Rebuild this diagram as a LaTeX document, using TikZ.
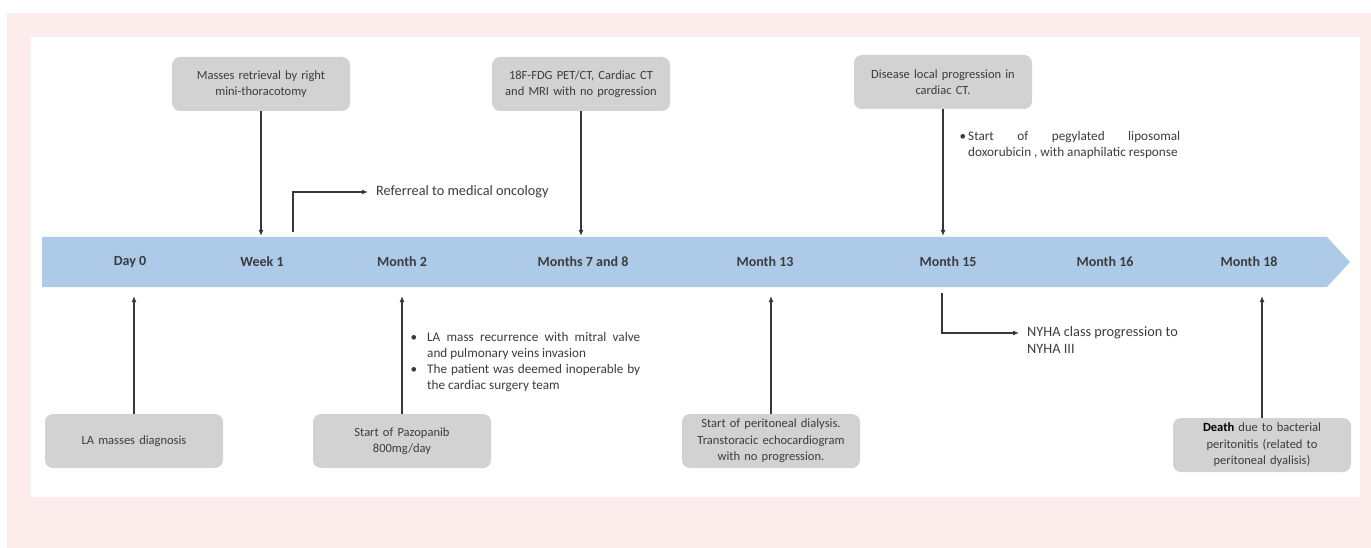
\documentclass[tikz,border=0pt]{standalone}
\usepackage{fontspec}
\setmainfont{Carlito}
\usepackage{tikz}
\usetikzlibrary{arrows.meta,positioning}
\definecolor{bgpink}{RGB}{252,236,236}
\definecolor{bandblue}{RGB}{173,203,232}
\definecolor{boxgrey}{RGB}{210,210,210}
\definecolor{txtgrey}{RGB}{60,60,60}
\definecolor{arrgrey}{RGB}{55,55,55}

\begin{document}
\begin{tikzpicture}[x=1pt,y=-1pt,
  event/.style={fill=boxgrey,rounded corners=8pt,minimum width=178pt,minimum height=54pt,
    text width=172pt,align=center,inner sep=2pt,text=txtgrey,font=\fontsize{12.5}{16.5}\selectfont},
  month/.style={text=txtgrey,font=\fontsize{14}{16}\selectfont\bfseries},
  note/.style={inner sep=0pt,text=txtgrey,font=\fontsize{13.2}{16}\selectfont},
  bignote/.style={note,font=\fontsize{14.3}{17}\selectfont},
  link/.style={draw=arrgrey,line width=1.3pt,-{Latex[length=6pt,width=5pt]}}]

\useasboundingbox (0,0) rectangle (1371,548);
\fill [bgpink] (7,13) rectangle (1371,548);
\fill [white] (31,37) rectangle (1360,497);

% time line
\fill [bandblue] (42,237) -- (1327,237) -- (1350,262) -- (1327,287) -- (42,287) -- cycle;
\coordinate (bandtop) at (0,236);
\coordinate (bandbelow) at (0,296);

\node [month] (day0) at (130,262) {Day 0};
\node [month] (week1) at (262,262) {Week 1};
\node [month] (month2) at (402,262) {Month 2};
\node [month] (month78) at (583,262) {Months 7 and 8};
\node [month] (month13) at (765,262) {Month 13};
\node [month] (month15) at (948,262) {Month 15};
\node [month] (month16) at (1105,262) {Month 16};
\node [month] (month18) at (1249,262) {Month 18};

% above the line
\node [event] (retrieval) at (261,84) {Masses retrieval by right\\mini-thoracotomy};
\draw [link] (retrieval) -- (retrieval |- bandtop);

\coordinate (refstart) at (293,232);
\node [bignote,anchor=west] (referral) at (376,192) {Referreal to medical oncology};
\draw [link,shorten >=8pt] (refstart) |- (referral.west);

\node [event] (petct) at (581,84) {18F-FDG PET/CT, Cardiac CT\\and MRI with no progression};
\draw [link] (petct) -- (petct |- bandtop);

\node [event] (localprog) at (943,82) {Disease local progression in\\cardiac CT.};
\draw [link] (localprog) -- (localprog |- bandtop);

\node [note,anchor=north west,text width=212pt,align=justify] (doxo) at (968,131)
  {\leavevmode\llap{\textbullet\hspace{2pt}}Start of pegylated liposomal\linebreak doxorubicin , with anaphilatic response};

% below the line
\node [event] (diagnosis) at (134,441) {LA masses diagnosis};
\draw [link] (diagnosis) -- (diagnosis |- bandbelow);

\node [event] (pazopanib) at (402,441) {Start of Pazopanib\\800mg/day};
\draw [link] (pazopanib) -- (pazopanib |- bandbelow);

\node [note,anchor=north west,text width=213pt,align=justify] (recurrence) at (427,332)
  {\leavevmode\llap{\textbullet\hspace{10pt}}LA mass recurrence with mitral valve\linebreak and pulmonary veins invasion\par
   \leavevmode\llap{\textbullet\hspace{10pt}}The patient was deemed inoperable by\linebreak the cardiac surgery team};

\node [event] (dialysis) at (771,441) {Start of peritoneal dialysis.\\Transtoracic echocardiogram\\with no progression.};
\draw [link] (dialysis) -- (dialysis |- bandbelow);

\coordinate (nyhastart) at (942,293);
\node [bignote,anchor=north west,align=left] (nyha) at (1027,326) {NYHA class progression to\\NYHA III};
\draw [link,shorten >=8pt] (nyhastart) |- ([yshift=-7pt]nyha.north west);

\node [event] (death) at (1262,445) {{\bfseries\color{black}Death} due to bacterial\\peritonitis (related to\\peritoneal dyalisis)};
\draw [link] (death) -- (death |- bandbelow);
\end{tikzpicture}
\end{document}
